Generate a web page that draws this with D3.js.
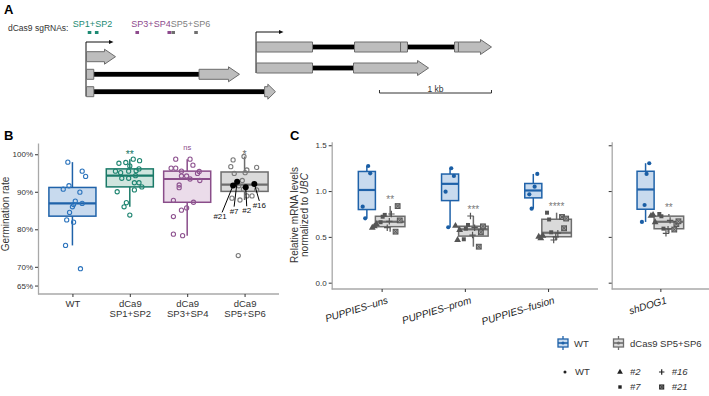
<!DOCTYPE html>
<html>
<head>
<meta charset="utf-8">
<script src="https://cdn.jsdelivr.net/npm/d3@7"></script>
<style>
  body { margin: 0; background: #fff; }
  svg { font-family: "Liberation Sans", Arial, sans-serif; }
</style>
</head>
<body>
<svg id="fig" width="709" height="396"></svg>
<script>
// ---------- data ----------
// A: exon coordinates (bp from the left TSS)
const transcripts = ['t1', 't2', 't3', 't4', 't5'];
const exons = [
  [[0, 259]],
  [[0, 65], [1005, 1366]],
  [[0, 65], [1590, 1687]],
  [[1518, 2018], [2393, 2804], [2804, 2866], [3286, 3321], [3321, 3616]],
  [[1518, 2018], [2384, 3054]]
];
const tssStarts = [0, 1518];
const sgRNAs = ['SP1', 'SP2', 'SP3', 'SP4', 'SP5', 'SP6'];
const sgPos = [27, 91, 453, 739, 774, 978];
const sgPairs = ['SP1+SP2', 'SP3+SP4', 'SP5+SP6'];
const scaleBar = [2616, 3616];

// B: germination rate
const germGroups = ['WT', 'SP1+SP2', 'SP3+SP4', 'SP5+SP6'];
const germLabels = [['WT'], ['dCa9', 'SP1+SP2'], ['dCa9', 'SP3+SP4'], ['dCa9', 'SP5+SP6']];
const germWT = [0.979, 0.955, 0.941, 0.916, 0.907, 0.899, 0.875, 0.869, 0.866, 0.860, 0.845, 0.825, 0.819, 0.757, 0.695];
const germSP12 = [0.987, 0.983, 0.978, 0.976, 0.969, 0.961, 0.956, 0.955, 0.955, 0.951, 0.936, 0.936, 0.943, 0.924, 0.924, 0.913, 0.905, 0.900, 0.871, 0.860, 0.838];
const germSP34 = [0.987, 0.987, 0.971, 0.963, 0.963, 0.955, 0.954, 0.949, 0.942, 0.942, 0.934, 0.930, 0.918, 0.911, 0.877, 0.872, 0.857, 0.851, 0.834, 0.787, 0.783];
const germSP56 = [0.994, 0.985, 0.967, 0.965, 0.958, 0.951, 0.949, 0.930, 0.916, 0.907, 0.905, 0.889, 0.889, 0.883, 0.878, 0.730];
const germLines = ['#21', '#7', '#2', '#16'];
const germLineVals = [0.917, 0.927, 0.912, 0.921];
const germSig = ['', '**', 'ns', '*'];
const germTicks = [0.65, 0.7, 0.8, 0.9, 1.0];

// jitter (in category units)
const jitWT = [-0.08, 0.17, 0.23, -0.06, -0.16, 0.13, 0.05, 0.17, 0.02, 0.0, -0.05, -0.10, 0.02, -0.12, 0.14];
const jitSP12 = [0.06, 0.17, -0.07, -0.19, 0, 0.16, 0.11, -0.25, -0.02, -0.16, -0.14, -0.02, 0.10, 0.08, 0.16, 0.21, 0.08, -0.22, -0.06, -0.10, 0];
const jitSP34 = [-0.20, 0.05, 0.10, -0.28, -0.20, -0.10, 0.21, 0.18, -0.10, -0.01, 0.05, 0.22, -0.14, -0.14, -0.24, 0.11, -0.01, -0.10, -0.24, -0.24, -0.08];
const jitSP56 = [-0.01, -0.20, -0.24, 0.21, 0.04, 0.01, -0.18, -0.04, -0.10, -0.02, 0.21, 0.04, 0.13, -0.22, -0.08, -0.11];
const jitLines = [-0.20, -0.13, 0.02, 0.17];

// C: relative mRNA levels
const genes = ['PUPPIES–uns', 'PUPPIES–prom', 'PUPPIES–fusion', 'shDOG1'];
const wtExpr = [
  [1.274, 1.194, 0.830, 0.703],
  [1.249, 1.165, 0.993, 0.605],
  [1.187, 1.048, 0.965, 0.808],
  [1.304, 1.187, 0.848, 0.663]
];
const wtJit = [
  [0.016, 0.04, -0.05, -0.02],
  [0.014, 0.046, -0.054, -0.022],
  [0.048, 0.016, -0.048, -0.02],
  [0.044, 0.012, -0.012, -0.044]
];
const dLines = ['#2', '#7', '#16', '#21'];
const dUns = [[0.60, 0.615, 0.64], [0.66, 0.72, 0.74], [0.60, 0.67, 0.75], [0.557, 0.836, 0.68]];
const dProm = [[0.62, 0.466, 0.575], [0.474, 0.59, 0.63], [0.728, 0.52, 0.60], [0.393, 0.55, 0.615]];
const dFusion = [[0.502, 0.485, 0.513], [0.764, 0.69, 0.55], [0.466, 0.50, 0.54], [0.717, 0.594, 0.70]];
const dShDOG1 = [[0.73, 0.74, 0.66], [0.75, 0.725, 0.59], [0.539, 0.585, 0.68], [0.58, 0.64, 0.67]];
const exprSig = ['**', '***', '****', '**'];
const exprTicks = [0, 0.5, 1.0, 1.5];

// ---------- styles ----------
const col = {
  blue:   {stroke: '#1f62a9', fill: '#c8daee', pt: '#2c74bd'},
  teal:   {stroke: '#1a7a68', fill: '#cfe5de', pt: '#1f8571'},
  purple: {stroke: '#8a4d8a', fill: '#ebdcea', pt: '#8e5390'},
  gray:   {stroke: '#6d6d6d', fill: '#dadada', pt: '#7a7a7a'}
};
const groupCol = [col.blue, col.teal, col.purple, col.gray];
const axisGray = '#a8a8a8';
const txt = '#333';

const svg = d3.select('#fig');

function boxStats(vals) {
  const s = vals.slice().sort(d3.ascending);
  const q1 = d3.quantile(s, 0.25), med = d3.quantile(s, 0.5), q3 = d3.quantile(s, 0.75);
  const iqr = q3 - q1;
  return {
    q1, med, q3,
    lo: d3.min(s.filter(v => v >= q1 - 1.5 * iqr)),
    hi: d3.max(s.filter(v => v <= q3 + 1.5 * iqr))
  };
}

function drawBox(g, cx, w, st, y, c, sw, msw) {
  g.append('line').attr('x1', cx).attr('x2', cx).attr('y1', y(st.hi)).attr('y2', y(st.q3))
    .attr('stroke', c.stroke).attr('stroke-width', sw);
  g.append('line').attr('x1', cx).attr('x2', cx).attr('y1', y(st.q1)).attr('y2', y(st.lo))
    .attr('stroke', c.stroke).attr('stroke-width', sw);
  g.append('rect').attr('x', cx - w / 2).attr('y', y(st.q3))
    .attr('width', w).attr('height', y(st.q1) - y(st.q3))
    .attr('fill', c.fill).attr('stroke', c.stroke).attr('stroke-width', sw);
  g.append('line').attr('x1', cx - w / 2).attr('x2', cx + w / 2)
    .attr('y1', y(st.med)).attr('y2', y(st.med))
    .attr('stroke', c.stroke).attr('stroke-width', msw);
}

function styleAxis(ax, fs) {
  ax.attr('font-family', null).attr('font-size', null);
  ax.select('.domain').attr('stroke', axisGray).attr('stroke-width', 1.3);
  ax.selectAll('.tick line').attr('stroke', txt);
  ax.selectAll('.tick text').attr('fill', txt).attr('font-size', fs);
}

function drawShape(g, type, x, y, color, k) {
  k = k || 1;
  if (type === '#2') {
    g.append('path').attr('d', d3.symbol(d3.symbolTriangle, 20 * k * k)())
      .attr('transform', `translate(${x},${y})`).attr('fill', color);
  } else if (type === '#7') {
    g.append('path').attr('d', d3.symbol(d3.symbolSquare, 16 * k * k)())
      .attr('transform', `translate(${x},${y})`).attr('fill', color);
  } else if (type === '#16') {
    const a = 3.2 * k;
    g.append('path').attr('d', `M${x - a},${y}H${x + a}M${x},${y - a}V${y + a}`)
      .attr('stroke', color).attr('stroke-width', 1.2).attr('fill', 'none');
  } else if (type === '#21') {
    const a = 2.4 * k;
    g.append('rect').attr('x', x - a).attr('y', y - a).attr('width', 2 * a).attr('height', 2 * a)
      .attr('fill', '#9a9a9a').attr('stroke', color).attr('stroke-width', 1);
    g.append('path').attr('d', `M${x - a},${y - a}L${x + a},${y + a}M${x + a},${y - a}L${x - a},${y + a}`)
      .attr('stroke', color).attr('stroke-width', 0.8);
  } else {
    g.append('circle').attr('cx', x).attr('cy', y).attr('r', 1.9 * k).attr('fill', color);
  }
}

// ---------- Panel A ----------
const gA = svg.append('g');
const xA = d3.scaleLinear().domain([0, 1000]).range([86.5, 198.5]);
const rowY = [56.7, 74.3, 91.7, 47, 68];
const tssTop = [42, 32];
const tssBottom = [96.5, 73];
const exonH = 10, headH = 15;
const sgCol = ['#1d8a73', '#1d8a73', '#8e4a8d', '#8e4a8d', '#6f6f6f', '#6f6f6f'];
const pairCol = ['#1d8a73', '#8e4a8d', '#808080'];
const pairX = [92.5, 151, 190.5];

gA.append('text').attr('x', 4).attr('y', 14).attr('font-weight', 'bold').attr('font-size', 13).text('A');
gA.append('text').attr('x', 8).attr('y', 30.5).attr('font-size', 8.5).attr('fill', txt).text('dCas9 sgRNAs:');

sgPairs.forEach((p, i) => {
  gA.append('text').attr('x', pairX[i]).attr('y', 26.5).attr('text-anchor', 'middle')
    .attr('font-size', 9).attr('fill', pairCol[i]).text(p);
});
sgRNAs.forEach((s, i) => {
  gA.append('rect').attr('x', xA(sgPos[i]) - 1.8).attr('y', 31).attr('width', 3.6).attr('height', 3)
    .attr('fill', sgCol[i]);
});

// TSS arrows
tssStarts.forEach((s, i) => {
  const x = xA(s) - 0.5;
  gA.append('path').attr('d', `M${x},${tssBottom[i]}V${tssTop[i]}H${x + 24}`)
    .attr('stroke', '#111').attr('stroke-width', 1).attr('fill', 'none');
  gA.append('path').attr('d', `M${x + 23},${tssTop[i] - 2}L${x + 27.5},${tssTop[i]}L${x + 23},${tssTop[i] + 2}Z`)
    .attr('fill', '#111');
});

transcripts.forEach((t, i) => {
  const ex = exons[i];
  const cy = rowY[i];
  if (ex.length > 1) {
    gA.append('rect').attr('x', xA(ex[0][1])).attr('y', cy - 2.4)
      .attr('width', xA(ex[ex.length - 1][0]) - xA(ex[0][1])).attr('height', 4.8)
      .attr('fill', '#000');
  }
  ex.forEach((e, j) => {
    const x0 = xA(e[0]), x1 = xA(e[1]);
    let d;
    if (j === ex.length - 1) {
      const h = Math.min(11, (x1 - x0) * 0.7);
      d = `M${x0},${cy - exonH / 2}H${x1 - h}V${cy - headH / 2}L${x1},${cy}L${x1 - h},${cy + headH / 2}V${cy + exonH / 2}H${x0}Z`;
    } else {
      d = `M${x0},${cy - exonH / 2}H${x1}V${cy + exonH / 2}H${x0}Z`;
    }
    gA.append('path').attr('d', d).attr('fill', '#bdbdbd').attr('stroke', '#6c6c6c').attr('stroke-width', 1);
  });
});

// scale bar
const sb0 = xA(scaleBar[0]), sb1 = xA(scaleBar[1]);
gA.append('path').attr('d', `M${sb0},90V93H${sb1}V90`).attr('stroke', txt).attr('fill', 'none').attr('stroke-width', 1);
gA.append('text').attr('x', (sb0 + sb1) / 2).attr('y', 91.5).attr('text-anchor', 'middle')
  .attr('font-size', 8.5).attr('fill', txt).text('1 kb');

// ---------- Panel B ----------
const gB = svg.append('g');
const yB = d3.scaleLinear().domain([0.6275, 1.03]).range([294, 143]);
const xB = d3.scalePoint().domain(germGroups).range([38, 279]).padding(0.6);
const stepB = xB.step();
const germData = [germWT, germSP12, germSP34, germSP56];
const germJit = [jitWT, jitSP12, jitSP34, jitSP56];

gB.append('text').attr('x', 4).attr('y', 140).attr('font-weight', 'bold').attr('font-size', 13).text('B');

const axBL = gB.append('g').attr('transform', 'translate(38,0)')
  .call(d3.axisLeft(yB).tickValues(germTicks).tickFormat(d3.format('.0%')).tickSize(3).tickSizeOuter(0).tickPadding(2));
styleAxis(axBL, 8);
const axBB = gB.append('g').attr('transform', 'translate(0,294)')
  .call(d3.axisBottom(xB).tickSize(3).tickSizeOuter(0).tickFormat(''));
styleAxis(axBB, 9.5);
axBB.select('.domain').attr('d', 'M38,0H279');
axBB.selectAll('.tick').each(function (d, i) {
  const t = d3.select(this).append('text').attr('fill', txt).attr('font-size', 9.5).attr('text-anchor', 'middle');
  germLabels[i].forEach((l, k) => t.append('tspan').attr('x', 0).attr('y', 13 + k * 10).text(l));
});

gB.append('text').attr('transform', 'translate(9,214) rotate(-90)').attr('text-anchor', 'middle')
  .attr('font-size', 10).attr('fill', txt).text('Germination rate');

germGroups.forEach((grp, i) => {
  const c = groupCol[i];
  const cx = xB(grp);
  const vals = i === 3 ? germData[i].concat(germLineVals) : germData[i];
  drawBox(gB, cx, stepB * 0.82, boxStats(vals), yB, c, 1.5, 2.2);
  germData[i].forEach((v, k) => {
    gB.append('circle').attr('cx', cx + germJit[i][k] * stepB).attr('cy', yB(v)).attr('r', 2.1)
      .attr('fill', 'none').attr('stroke', c.pt).attr('stroke-width', 1.1);
  });
  if (germSig[i]) {
    const ns = germSig[i] === 'ns';
    gB.append('text').attr('x', cx).attr('y', ns ? 150 : 157.5).attr('text-anchor', 'middle')
      .attr('font-size', ns ? 7.5 : 10.5).attr('fill', c.stroke).text(germSig[i]);
  }
});

// highlighted lines on the SP5+SP6 box
const lblOff = [[-13, 34], [-3, 32], [1, 26], [5, 24]];
germLines.forEach((l, k) => {
  const px = xB('SP5+SP6') + jitLines[k] * stepB, py = yB(germLineVals[k]);
  const lx = px + lblOff[k][0], ly = py + lblOff[k][1];
  gB.append('line').attr('x1', px).attr('y1', py).attr('x2', lx + (lblOff[k][0] < -5 ? 2 : 0)).attr('y2', ly - 7)
    .attr('stroke', '#000').attr('stroke-width', 1);
  gB.append('circle').attr('cx', px).attr('cy', py).attr('r', 3).attr('fill', '#000');
  gB.append('text').attr('x', lx).attr('y', ly).attr('text-anchor', 'middle')
    .attr('font-size', 8).attr('fill', '#111').text(l);
});

// ---------- Panel C ----------
const gC = svg.append('g');
const yC = d3.scaleLinear().domain([-0.069, 1.539]).range([289, 141.7]);
const xC1 = d3.scalePoint().domain(genes.slice(0, 3)).range([331.7, 598]).padding(0.6);
const xC2 = d3.scalePoint().domain(genes.slice(3)).range([611.7, 709]).padding(0.6);
const unitC = xC1.step();
const dcas = [dUns, dProm, dFusion, dShDOG1];
const lineOff = [-0.19, -0.09, -0.01, 0.09];

gC.append('text').attr('x', 290).attr('y', 140).attr('font-weight', 'bold').attr('font-size', 13).text('C');

const axC1 = gC.append('g').attr('transform', 'translate(331.7,0)')
  .call(d3.axisLeft(yC).tickValues(exprTicks).tickFormat(d3.format('.1f')).tickSize(3).tickSizeOuter(0).tickPadding(2));
styleAxis(axC1, 8);
const axC2 = gC.append('g').attr('transform', 'translate(611.7,0)')
  .call(d3.axisLeft(yC).tickValues(exprTicks).tickFormat('').tickSize(3).tickSizeOuter(0));
styleAxis(axC2, 8);
[[xC1, 331.7, 598], [xC2, 611.7, 709]].forEach(([sc, a, b]) => {
  const ax = gC.append('g').attr('transform', 'translate(0,289)')
    .call(d3.axisBottom(sc).tickSize(3).tickSizeOuter(0).tickFormat(''));
  styleAxis(ax, 10);
  ax.select('.domain').attr('d', `M${a},0H${b}`);
});

gC.append('text').attr('transform', 'translate(297.5,215) rotate(-90)').attr('text-anchor', 'middle')
  .attr('font-size', 10).attr('fill', txt).text('Relative mRNA levels');
const yl2 = gC.append('text').attr('transform', 'translate(308,215) rotate(-90)').attr('text-anchor', 'middle')
  .attr('font-size', 10).attr('fill', txt);
yl2.append('tspan').text('normalized to ');
yl2.append('tspan').attr('font-style', 'italic').text('UBC');

genes.forEach((gname, i) => {
  const sc = i < 3 ? xC1 : xC2;
  const cx = sc(gname);
  gC.append('text').attr('transform', `translate(${cx + 7},303) rotate(-17)`).attr('text-anchor', 'end')
    .attr('font-size', 10).attr('font-style', 'italic').attr('fill', '#222').text(gname);

  const nW = wtExpr[i].length;
  const dVals = dcas[i].flat();
  const nD = dVals.length;
  const total = 0.56;
  const wW = total * Math.sqrt(nW) / (Math.sqrt(nW) + Math.sqrt(nD));
  const wD = total - wW;
  const cW = cx + (-total / 2 + wW / 2) * unitC;
  const cD = cx + (-total / 2 + wW + wD / 2) * unitC;

  const stD = boxStats(dVals);
  drawBox(gC, cW, wW * unitC, boxStats(wtExpr[i]), yC, col.blue, 1.5, 2.2);
  drawBox(gC, cD, wD * unitC, stD, yC, col.gray, 1.5, 2.2);

  wtExpr[i].forEach((v, k) => {
    gC.append('circle').attr('cx', cW + wtJit[i][k] * unitC).attr('cy', yC(v)).attr('r', 2.1).attr('fill', '#1a5ea5');
  });
  dLines.forEach((l, li) => {
    dcas[i][li].forEach((v, r) => {
      drawShape(gC, l, cD + (lineOff[li] + (r - 1) * 0.025) * unitC, yC(v), '#555');
    });
  });
  gC.append('text').attr('x', cD).attr('y', yC(stD.hi) - 3).attr('text-anchor', 'middle')
    .attr('font-size', 10).attr('fill', '#7a7a7a').text(exprSig[i]);
});

// ---------- legend ----------
const gL = svg.append('g');
function legendBox(x, y, c) {
  gL.append('line').attr('x1', x + 5).attr('x2', x + 5).attr('y1', y - 7).attr('y2', y + 7)
    .attr('stroke', c.stroke).attr('stroke-width', 1.3);
  gL.append('rect').attr('x', x).attr('y', y - 4).attr('width', 10).attr('height', 8)
    .attr('fill', c.fill).attr('stroke', c.stroke).attr('stroke-width', 1.3);
  gL.append('line').attr('x1', x).attr('x2', x + 10).attr('y1', y).attr('y2', y)
    .attr('stroke', c.stroke).attr('stroke-width', 1.6);
  gL.append('circle').attr('cx', x + 5).attr('cy', y).attr('r', 1.6).attr('fill', c.stroke);
}
legendBox(558, 343, col.blue);
gL.append('text').attr('x', 574).attr('y', 346.5).attr('font-size', 9.5).attr('fill', txt).text('WT');
legendBox(613.5, 343, col.gray);
gL.append('text').attr('x', 630).attr('y', 346.5).attr('font-size', 9.5).attr('fill', txt).text('dCas9 SP5+SP6');

const shapeLeg = [['WT', 565, 372], ['#2', 620, 372], ['#16', 661.7, 372], ['#7', 620, 387], ['#21', 661.7, 387]];
shapeLeg.forEach(([l, x, y]) => {
  drawShape(gL, l, x, y, '#222', l === 'WT' ? 0.8 : 0.85);
  gL.append('text').attr('x', x + (l === 'WT' ? 10 : 10)).attr('y', y + 3.3).attr('font-size', 9.5)
    .attr('font-style', l === 'WT' ? 'normal' : 'italic').attr('fill', txt).text(l);
});
</script>
</body>
</html>
